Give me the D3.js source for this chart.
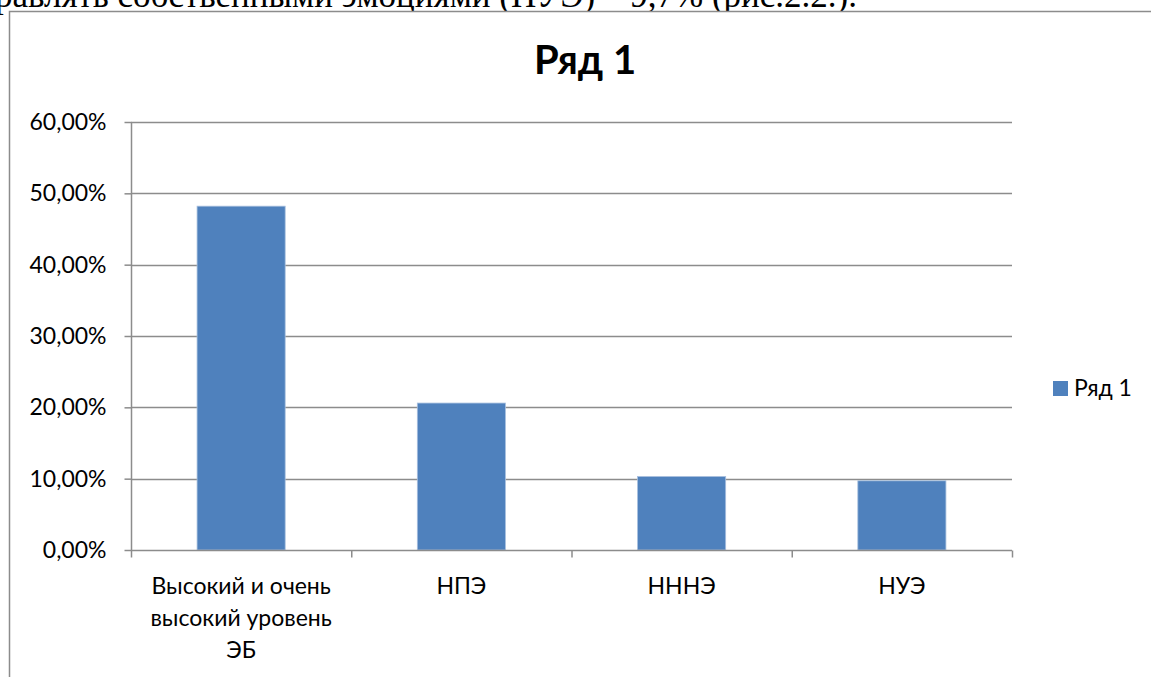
<!DOCTYPE html>
<html>
<head>
<meta http-equiv='Content-Type' content='text/html; charset=UTF-8'/>
<script src="https://cdn.jsdelivr.net/npm/d3@7"></script>
<style>
    body { margin: 0; background: #fff; }
    svg { display: block; }
    .lbl { font-family: Lato, "Open Sans", sans-serif; fill: #000; }
    .doc { font-family: "Liberation Serif", "DejaVu Serif", serif; }
</style>
</head>
<body>
<svg id="main" width="1151" height="677"></svg>
<script>
    // data
    var categories = ['Высокий и очень высокий уровень ЭБ', 'НПЭ', 'НННЭ', 'НУЭ']
    var catLines = [['Высокий и очень', 'высокий уровень', 'ЭБ'], ['НПЭ'], ['НННЭ'], ['НУЭ']]
    var values = [0.482, 0.206, 0.103, 0.097]
    var yTicks = [0, 0.1, 0.2, 0.3, 0.4, 0.5, 0.6]
    var seriesName = 'Ряд 1'

    var svg = d3.select('#main')

    // cropped line of document text above the chart
    svg.append('text')
        .attr('class', 'doc')
        .attr('x', 857).attr('y', 7)
        .attr('text-anchor', 'end')
        .style('font-size', '35px')
        .text('управлять собственными эмоциями (НУЭ) – 9,7% (рис.2.2.).')

    // chart frame
    svg.append('rect')
        .attr('x', 9.5).attr('y', 11.5)
        .attr('width', 1160).attr('height', 700)
        .attr('fill', '#fff').attr('stroke', '#8c8c8c').attr('stroke-width', 1.5)

    var pLeft = 131, pRight = 1012, pTop = 122, pBottom = 550

    var x = d3.scaleBand().domain(categories).range([pLeft, pRight])
        .paddingInner(0.6).paddingOuter(0.3)
    var y = d3.scaleLinear().domain([0, 0.6]).range([pBottom, pTop])

    var fmt = function(d){ return d3.format('.2f')(d * 100).replace('.', ',') + '%' }

    // gridlines
    svg.append('g').selectAll('line')
        .data(yTicks.slice(1))
        .enter().append('line')
        .attr('x1', pLeft).attr('x2', pRight)
        .attr('y1', d => Math.round(y(d)) + 0.5).attr('y2', d => Math.round(y(d)) + 0.5)
        .attr('stroke', '#8c8c8c').attr('stroke-width', 1.5)

    // bars
    svg.append('g').selectAll('rect')
        .data(values)
        .enter().append('rect')
        .attr('x', (d, i) => x(categories[i]))
        .attr('y', d => y(d))
        .attr('width', x.bandwidth())
        .attr('height', d => pBottom - y(d))
        .attr('fill', '#4f81bd')
        .attr('stroke', '#a7bfde').attr('stroke-width', 0.8)

    // y axis
    var yAxis = svg.append('g')
        .attr('transform', 'translate(' + (pLeft + 0.5) + ',0)')
        .call(d3.axisLeft(y).tickValues(yTicks).tickFormat(fmt).tickSize(7).tickPadding(18))
    yAxis.select('.domain').attr('stroke', '#8c8c8c').attr('stroke-width', 1.5)
        .attr('d', 'M0,' + pTop + 'V' + pBottom)
    yAxis.selectAll('.tick line').attr('stroke', '#8c8c8c').attr('stroke-width', 1.5)
    yAxis.selectAll('.tick text').attr('class', 'lbl').style('font-size', '23px')
        .attr('font-family', null).attr('font-size', null)

    // x axis
    var xAxis = svg.append('g')
        .attr('transform', 'translate(0,' + (pBottom + 0.5) + ')')
    xAxis.append('line')
        .attr('x1', pLeft).attr('x2', pRight)
        .attr('stroke', '#8c8c8c').attr('stroke-width', 1.5)
    xAxis.selectAll('.xt')
        .data(d3.range(categories.length + 1))
        .enter().append('line')
        .attr('x1', i => pLeft + 0.5 + i * x.step())
        .attr('x2', i => pLeft + 0.5 + i * x.step())
        .attr('y1', 0).attr('y2', 7)
        .attr('stroke', '#8c8c8c').attr('stroke-width', 1.5)

    xAxis.selectAll('.xl')
        .data(catLines)
        .enter().append('text')
        .attr('class', 'lbl')
        .attr('text-anchor', 'middle')
        .style('font-size', '23px')
        .attr('transform', (d, i) => 'translate(' + (x(categories[i]) + x.bandwidth() / 2) + ',0)')
        .each(function(lines){
            d3.select(this).selectAll('tspan')
                .data(lines)
                .enter().append('tspan')
                .attr('x', 0)
                .attr('y', (l, j) => 43 + j * 32)
                .text(l => l)
        })

    // title
    svg.append('text')
        .attr('class', 'lbl')
        .attr('x', 585).attr('y', 74)
        .attr('text-anchor', 'middle')
        .style('font-size', '40px').style('font-weight', 'bold')
        .text(seriesName)

    // legend
    var lg = svg.append('g').attr('transform', 'translate(1053,381)')
    lg.append('rect').attr('width', 15).attr('height', 15).attr('fill', '#4f81bd')
    lg.append('text').attr('class', 'lbl')
        .attr('x', 21).attr('y', 15)
        .style('font-size', '23px')
        .text(seriesName)
</script>
</body>
</html>
